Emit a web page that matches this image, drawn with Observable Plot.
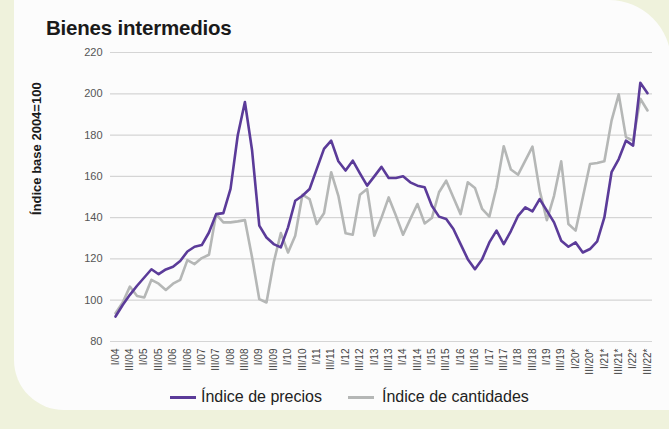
<!DOCTYPE html>
<html><head><meta charset="utf-8">
<script src="https://cdn.jsdelivr.net/npm/d3@7"></script>
<script src="https://cdn.jsdelivr.net/npm/@observablehq/plot@0.6"></script>
<style>
body{margin:0;background:#eff2dc;width:669px;height:429px;overflow:hidden;position:relative;font-family:"Liberation Sans",Arial,sans-serif;}
#panel{position:absolute;left:14px;top:0;width:657px;height:410px;background:#fcfcfc;border-radius:0 62px 0 50px;}
#title{position:absolute;left:46px;top:16px;font-size:20.5px;font-weight:bold;color:#1a1a1a;letter-spacing:-0.2px;}
#chart{position:absolute;left:0;top:0;}
.leg{position:absolute;top:388px;font-size:16px;color:#222;display:flex;align-items:center;white-space:nowrap;}
.sw{display:inline-block;width:26px;height:3px;margin-right:5px;}
</style></head>
<body>
<div id="panel"></div>
<div id="title">Bienes intermedios</div>
<div id="chart"></div>
<div class="leg" style="left:170px"><span class="sw" style="background:#5b3b99"></span>Índice de precios</div>
<div class="leg" style="left:348px"><span class="sw" style="background:#b5b7b6;margin-right:8px"></span>Índice de cantidades</div>
<script>
const tickLabels = ["I/04","III/04","I/05","III/05","I/06","III/06","I/07","III/07","I/08","III/08","I/09","III/09","I/10","III/10","I/11","III/11","I/12","III/12","I/13","III/13","I/14","III/14","I/15","III/15","I/16","III/16","I/17","III/17","I/18","III/18","I/19","III/19","I/20*","III/20*","I/21*","III/21*","I/22*","III/22*"];
const precios = [92.1,97.7,102.6,107,111,115,112.6,114.9,116.2,119,123.6,125.9,126.7,132.8,141.7,142.2,153.9,179.8,196,172.5,136.1,130.4,127.2,125.6,135.3,148.2,150.6,153.9,163.6,173.3,177.3,167.3,162.8,167.6,161.4,155.5,160,164.6,159.2,159.2,160,157.1,155.5,154.7,145.8,140.5,139.3,134.5,127.2,119.9,115,119.9,128,133.7,127.2,133.5,140.9,145,143,149,143.4,137.7,128.8,125.9,128,123.1,124.8,128.5,140.1,162,168.4,177.3,174.9,205.3,200.3];
const cantidades = [93.7,98.9,106.6,102,101.3,109.9,108,105,108,109.9,119.4,117.5,120.4,122,141.7,137.7,137.7,138.2,138.8,120.7,100.5,98.9,118.3,132.5,123.1,131.2,151.1,149,136.9,142.1,162,150.6,132.4,131.7,151.1,153.9,131.2,140,149.8,141,131.7,139.3,146.6,137.2,139.8,152.3,157.9,149.8,141.7,157.1,154.4,144.2,140.5,154.7,174.6,163.3,160.8,167.6,174.4,153.1,138.8,150.6,167.3,136.9,133.7,149.8,166,166.5,167.3,187,199.7,179,177.3,197.6,191.9];
const yTicks = [80,100,120,140,160,180,200,220];
const yLabel = "Índice base 2004=100";

const tickIdx = tickLabels.map((_, k) => k * 2);
const chart = Plot.plot({
  width: 669, height: 385,
  marginLeft: 110, marginRight: 17, marginTop: 52, marginBottom: 44,
  x: {type: "linear", domain: [0, precios.length - 1], inset: 5},
  y: {domain: [80, 220]},
  style: {background: "transparent", fontFamily: "Liberation Sans, Arial, sans-serif", overflow: "visible"},
  marks: [
    Plot.gridY({ticks: yTicks, stroke: "#d5d5d5", strokeOpacity: 1, strokeWidth: 1.2}),
    Plot.axisY({ticks: yTicks, tickSize: 0, tickPadding: 8, fontSize: 11, color: "#555", label: null}),
    Plot.axisX({ticks: tickIdx, tickFormat: i => tickLabels[i / 2], tickRotate: -90, tickSize: 0, tickPadding: 7, fontSize: 10, color: "#444", label: null}),
    Plot.lineY(cantidades, {x: (d, i) => i, y: d => d, stroke: "#b5b7b6", strokeWidth: 2.6}),
    Plot.lineY(precios, {x: (d, i) => i, y: d => d, stroke: "#5b3b99", strokeWidth: 2.6}),
    Plot.text([yLabel], {text: d => d, frameAnchor: "left", rotate: -90, dx: -74, dy: 18, fontWeight: "bold", fontSize: 13, fill: "#1a1a1a"})
  ]
});
document.getElementById("chart").appendChild(chart);
</script>
</body></html>
